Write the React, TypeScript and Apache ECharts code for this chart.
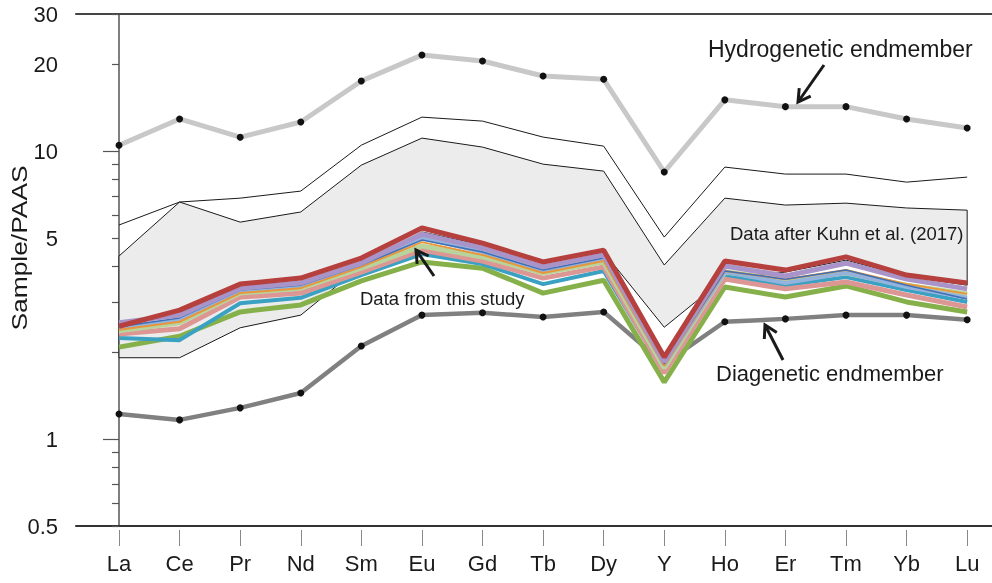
import React, { useEffect, useRef } from "react";
import * as echarts from "echarts";

const categories = ["La", "Ce", "Pr", "Nd", "Sm", "Eu", "Gd", "Tb", "Dy", "Y", "Ho", "Er", "Tm", "Yb", "Lu"];
const categoryPositions = [0, 1, 2, 3, 4, 5, 6, 7, 8, 9, 10, 11, 12, 13, 14];
const yLabelValues = [0.5, 1, 5, 10, 20, 30];
const yMajorTicks = [1, 10];
const yMinorTicks = [0.5, 0.6, 0.7, 0.8, 0.9, 2, 3, 4, 5, 6, 7, 8, 9, 20, 30];

const hydrogenetic = [10.5, 12.96, 11.2, 12.65, 17.56, 21.6, 20.6, 18.27, 17.8, 8.48, 15.1, 14.3, 14.3, 12.96, 12.06];
const diagenetic = [1.225, 1.168, 1.286, 1.449, 2.11, 2.7, 2.75, 2.66, 2.77, 1.83, 2.56, 2.62, 2.7, 2.7, 2.6];
const kuhnOuter = [5.55, 6.67, 6.88, 7.28, 10.51, 13.15, 12.74, 11.21, 10.43, 5.04, 8.82, 8.34, 8.34, 7.82, 8.14];
const kuhnUpper = [4.33, 6.67, 5.68, 6.16, 8.96, 11.12, 10.35, 9.03, 8.54, 4.03, 6.88, 6.51, 6.61, 6.36, 6.25];
const kuhnLower = [1.92, 1.92, 2.44, 2.7, 4.0, 5.25, 4.73, 4.13, 4.47, 2.45, 3.63, 3.81, 4.19, 3.69, 3.43];

const sampleRed = [2.47, 2.81, 3.46, 3.63, 4.26, 5.42, 4.8, 4.13, 4.54, 1.93, 4.16, 3.87, 4.3, 3.72, 3.49];
const samplePurple = [2.54, 2.7, 3.35, 3.49, 4.09, 5.16, 4.62, 3.97, 4.37, 1.86, 4.0, 3.69, 4.09, 3.6, 3.33];
const sampleLightBlue = [2.44, 2.6, 3.27, 3.41, 4.0, 5.0, 4.47, 3.84, 4.23, 1.81, 3.81, 3.49, 3.78, 3.38, 3.1];
const sampleOrange = [2.4, 2.56, 3.22, 3.35, 3.97, 4.84, 4.37, 3.78, 4.16, 1.8, 3.84, 3.6, 3.87, 3.46, 3.2];
const sampleLightGreen = [2.38, 2.54, 3.22, 3.35, 3.93, 4.69, 4.3, 3.78, 4.13, 1.77, 3.81, 3.57, 3.78, 3.43, 3.2];
const samplePink = [2.32, 2.42, 3.12, 3.22, 3.81, 4.54, 4.16, 3.63, 3.97, 1.7, 3.6, 3.33, 3.52, 3.17, 2.88];
const sampleTeal = [2.25, 2.21, 2.97, 3.1, 3.72, 4.4, 4.06, 3.46, 3.84, 1.71, 3.69, 3.43, 3.66, 3.3, 3.0];
const sampleDarkBlue = [2.46, 2.64, 3.3, 3.43, 4.03, 4.92, 4.47, 3.87, 4.26, 1.83, 3.84, 3.6, 3.87, 3.43, 3.07];
const sampleGreen = [2.09, 2.28, 2.77, 2.93, 3.55, 4.13, 3.93, 3.22, 3.57, 1.58, 3.38, 3.12, 3.41, 3.0, 2.77];

const sampleSeries = [
  { values: sampleGreen, color: "#86b04a", width: 5 },
  { values: sampleTeal, color: "#3aa1c2", width: 4 },
  { values: samplePink, color: "#dc9694", width: 5 },
  { values: sampleLightGreen, color: "#b8d49c", width: 5 },
  { values: sampleLightBlue, color: "#93b3dd", width: 4 },
  { values: sampleOrange, color: "#e8963c", width: 2 },
  { values: sampleDarkBlue, color: "#3f6fb5", width: 1.5 },
  { values: samplePurple, color: "#a894c8", width: 5 },
  { values: sampleRed, color: "#b5403d", width: 5 },
];

const toPairs = (vals: number[]) => vals.map((v, i) => [i, v]);

function arrow(tail: [number, number], head: [number, number]) {
  const dx = tail[0] - head[0];
  const dy = tail[1] - head[1];
  const len = Math.hypot(dx, dy);
  const ux = dx / len;
  const uy = dy / len;
  const L = 14;
  const a = Math.PI / 6;
  const c = Math.cos(a);
  const s = Math.sin(a);
  const w1 = [head[0] + L * (ux * c - uy * s), head[1] + L * (ux * s + uy * c)];
  const w2 = [head[0] + L * (ux * c + uy * s), head[1] + L * (-ux * s + uy * c)];
  return [
    { type: "line", shape: { x1: tail[0], y1: tail[1], x2: head[0], y2: head[1] }, style: { stroke: "#1a1a1a", lineWidth: 3 }, z: 100 },
    { type: "polyline", shape: { points: [w1, head, w2] }, style: { stroke: "#1a1a1a", lineWidth: 3, fill: null }, z: 100 },
  ];
}

const fmt = (v: number) => String(+Number(v).toPrecision(3));

export default function App() {
  const ref = useRef<HTMLDivElement>(null);
  useEffect(() => {
    if (!ref.current) return;
    const chart = echarts.init(ref.current, null, { renderer: "svg" });
    const font = "Liberation Sans, Arial, sans-serif";
    const xCommon = { type: "value", min: -0.71, max: 14.41, splitLine: { show: false } };
    const yCommon = { type: "log", logBase: 10, min: 0.5, max: 30, splitLine: { show: false } };
    const option: any = {
      animation: false,
      grid: { left: 76, right: 0, top: 14, bottom: 57, containLabel: false, outerBoundsMode: "none" },
      xAxis: [
        {
          ...xCommon,
          position: "bottom",
          axisLine: { show: true, lineStyle: { color: "#333", width: 2 } },
          axisTick: { show: false },
          axisLabel: { show: false },
        },
        {
          ...xCommon,
          position: "bottom",
          offset: 4,
          axisLine: { show: false },
          axisTick: { show: true, customValues: categoryPositions, length: 16, lineStyle: { color: "#888", width: 1 } },
          axisLabel: {
            show: true,
            customValues: categoryPositions,
            margin: 22,
            fontSize: 22,
            fontFamily: font,
            color: "#1a1a1a",
            formatter: (v: number) => categories[Math.round(v)] ?? "",
          },
        },
        {
          ...xCommon,
          position: "top",
          axisLine: { show: true, lineStyle: { color: "#444", width: 2 } },
          axisTick: { show: false },
          axisLabel: { show: false },
        },
      ],
      yAxis: [
        {
          ...yCommon,
          position: "left",
          axisLine: { show: true, lineStyle: { color: "#555", width: 1.5 } },
          axisTick: { show: true, customValues: yMajorTicks, length: 16, lineStyle: { color: "#555", width: 1.2 } },
          axisLabel: {
            show: true,
            customValues: yLabelValues,
            margin: 18,
            fontSize: 22,
            fontFamily: font,
            color: "#1a1a1a",
            formatter: fmt,
          },
        },
        {
          ...yCommon,
          position: "left",
          axisLine: { show: false },
          axisTick: { show: true, customValues: yMinorTicks, length: 7, lineStyle: { color: "#555", width: 1.2 } },
          axisLabel: { show: false },
        },
      ],
      series: [
        {
          type: "custom",
          xAxisIndex: 0,
          yAxisIndex: 0,
          silent: true,
          z: 1,
          data: [[0, kuhnUpper[0]]],
          renderItem: (params: any, api: any) => {
            const pts: number[][] = [];
            for (let i = 0; i < kuhnUpper.length; i++) pts.push(api.coord([i, kuhnUpper[i]]));
            for (let i = kuhnLower.length - 1; i >= 0; i--) pts.push(api.coord([i, kuhnLower[i]]));
            return {
              type: "polygon",
              shape: { points: pts },
              style: { fill: "#ececec", stroke: "#1a1a1a", lineWidth: 1 },
            };
          },
        },
        {
          type: "line",
          z: 2,
          silent: true,
          data: toPairs(kuhnOuter),
          showSymbol: false,
          lineStyle: { color: "#1a1a1a", width: 1 },
        },
        {
          type: "line",
          z: 3,
          silent: true,
          data: toPairs(hydrogenetic),
          symbol: "circle",
          symbolSize: 7,
          itemStyle: { color: "#111" },
          lineStyle: { color: "#c8c8c8", width: 5 },
        },
        {
          type: "line",
          z: 3,
          silent: true,
          data: toPairs(diagenetic),
          symbol: "circle",
          symbolSize: 7,
          itemStyle: { color: "#111" },
          lineStyle: { color: "#808080", width: 4.5 },
        },
        ...sampleSeries.map((s) => ({
          type: "line",
          z: 4,
          silent: true,
          data: toPairs(s.values),
          showSymbol: false,
          lineStyle: { color: s.color, width: s.width },
        })),
      ],
      graphic: [
        {
          type: "text",
          x: 19,
          y: 248,
          rotation: Math.PI / 2,
          scaleX: 1.2,
          style: { text: "Sample/PAAS", fontSize: 22, fontFamily: font, fill: "#1a1a1a", align: "center", verticalAlign: "middle" },
        },
        {
          type: "text",
          x: 708,
          y: 49,
          style: { text: "Hydrogenetic endmember", fontSize: 23, fontFamily: font, fill: "#1a1a1a", align: "left", verticalAlign: "middle" },
          z: 100,
        },
        {
          type: "text",
          x: 716,
          y: 373,
          style: { text: "Diagenetic endmember", fontSize: 22, fontFamily: font, fill: "#1a1a1a", align: "left", verticalAlign: "middle" },
          z: 100,
        },
        {
          type: "text",
          x: 360,
          y: 298,
          style: { text: "Data from this study", fontSize: 18.5, fontFamily: font, fill: "#1a1a1a", align: "left", verticalAlign: "middle" },
          z: 100,
        },
        {
          type: "text",
          x: 730,
          y: 233,
          style: { text: "Data after Kuhn et al. (2017)", fontSize: 18.5, fontFamily: font, fill: "#1a1a1a", align: "left", verticalAlign: "middle" },
          z: 100,
        },
        ...arrow([824, 65], [798, 102]),
        ...arrow([434, 276], [416, 250]),
        ...arrow([783, 360], [765, 325]),
      ],
    };
    chart.setOption(option);
    return () => chart.dispose();
  }, []);
  return <div ref={ref} style={{ position: "fixed", left: 0, top: 0, width: 992, height: 583 }} />;
}
